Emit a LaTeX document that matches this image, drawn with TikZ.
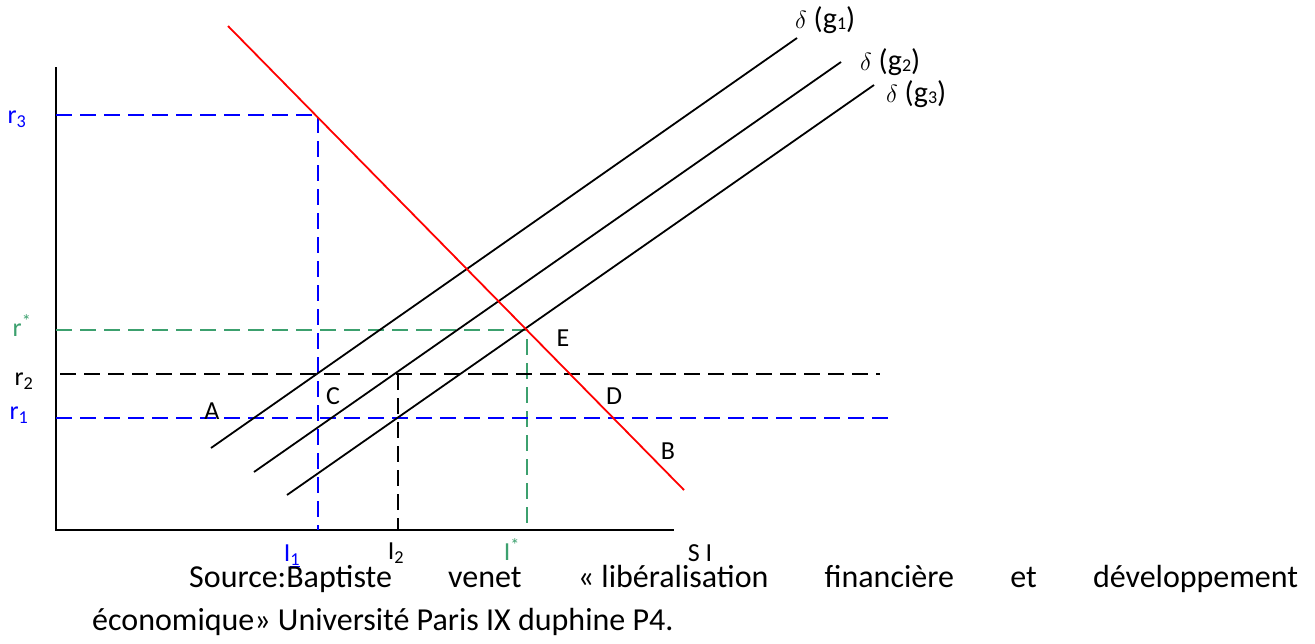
\documentclass[tikz,border=0pt]{standalone}
\usepackage{fontspec}
\setmainfont{Carlito}
\begin{document}
\begin{tikzpicture}[x=1pt,y=-1pt,
  lab/.style={inner sep=0pt,font=\fontsize{26}{30}\selectfont},
  dlab/.style={inner sep=0pt,anchor=west,font=\fontsize{30}{30}\selectfont},
  src/.style={inner sep=0pt,anchor=base west,font=\fontsize{32}{36}\selectfont},
  dsh/.style={line width=1.8pt,dash pattern=on 16pt off 8pt},
  curve/.style={line width=1.8pt,black},
  axis/.style={line width=2.4pt,black}]
\useasboundingbox (0,0) rectangle (1315,643);
\definecolor{gr}{RGB}{60,160,110}
\newcommand{\dlt}{{\fontsize{37}{37}\selectfont$\delta$}}
\newcommand{\gsub}[1]{\raisebox{-1pt}{\fontsize{18}{18}\selectfont #1}}
% axes
\coordinate (O) at (56,530);
\coordinate (Ytop) at (56,67);
\coordinate (Xend) at (674,530);
\draw[axis] (Ytop) -- (O) -- (Xend);
% key points
\coordinate (P3) at (318,115);
\coordinate (E) at (527,330);
\coordinate (Q2) at (398,374);
\coordinate (Y3) at (56,115);
\coordinate (Ys) at (56,330);
\coordinate (Y2) at (60,374);
\coordinate (Y1) at (56,418);
\coordinate (X1) at (318,530);
\coordinate (X2) at (398,530);
\coordinate (Xs) at (527,530);
\coordinate (R2end) at (880,374);
\coordinate (R1end) at (888,418);
% dashed guides
\draw[dsh,blue] (Y3) -- (P3) -- (X1);
\draw[dsh,gr] (Ys) -- (E) -- (Xs);
\draw[dsh,black] (Y2) -- (R2end);
\draw[dsh,black] (Q2) -- (X2);
\draw[dsh,blue] (Y1) -- (R1end);
% delta curves
\coordinate (g1a) at (211,448); \coordinate (g1b) at (797,38);
\coordinate (g2a) at (254,472); \coordinate (g2b) at (841,62);
\coordinate (g3a) at (287,495); \coordinate (g3b) at (874,85);
\draw[curve] (g1a) -- (g1b);
\draw[curve] (g2a) -- (g2b);
\draw[curve] (g3a) -- (g3b);
% red line
\coordinate (Ra) at (228,26); \coordinate (Rb) at (684,490);
\draw[red,line width=1.8pt] (Ra) -- (Rb);
% axis labels
\node[lab,blue] (lr3) at (17,119) {r\textsubscript{3}};
\node[lab,gr] (lrs) at (22,326) {r\textsuperscript{*}};
\node[lab] (lr2) at (24,381) {r\textsubscript{2}};
\node[lab,blue] (lr1) at (19,415) {r\textsubscript{1}};
\node[lab,blue] (lI1) at (292,556) {I\textsubscript{\underline{1}}};
\node[lab] (lI2) at (396,553) {I\textsubscript{2}};
\node[lab,gr] (lIs) at (512,550) {I\textsuperscript{*}};
\node[lab] (lSI) at (700,553) {S I};
% point labels
\node[lab] (lA) at (212,411) {A};
\node[lab] (lC) at (333,396) {C};
\node[lab] (lD) at (614,396) {D};
\node[lab] (lE) at (563,338) {E};
\node[lab] (lB) at (668,451) {B};
% curve labels
\node[dlab] (d1) at (795,20) {\dlt\ (g\gsub{1})};
\node[dlab] (d2) at (860,62) {\dlt\ (g\gsub{2})};
\node[dlab] (d3) at (886,94) {\dlt\ (g\gsub{3})};
% source text
\node[src] (s1) at (189,587) {\makebox[1109pt][s]{Source:Baptiste\hfill venet\hfill «~libéralisation\hfill financière\hfill et\hfill développement}};
\node[src] (s2) at (92,630) {économique» Université Paris IX duphine P4.};
\end{tikzpicture}
\end{document}
